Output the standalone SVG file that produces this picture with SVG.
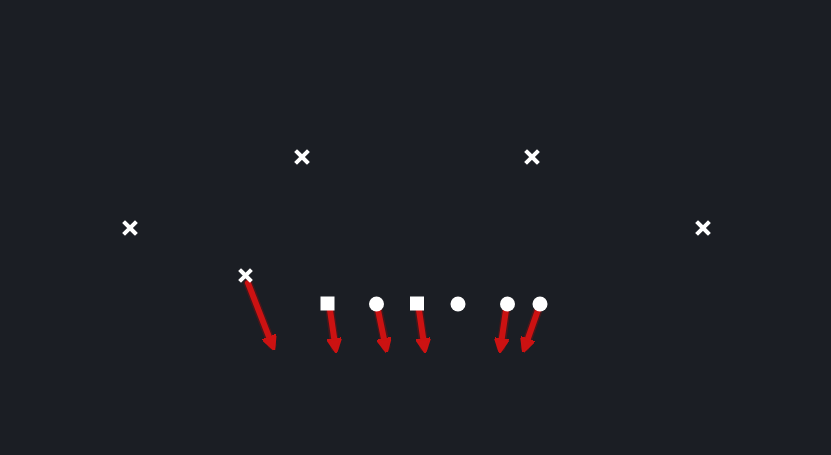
<svg xmlns="http://www.w3.org/2000/svg" width="831" height="455" viewBox="0 0 831 455">
<defs>
<style>
.x{stroke:#ffffff;stroke-width:4;stroke-linecap:square}
.p{fill:#ffffff}
.r{stroke:#cc1212;stroke-width:6;fill:none;stroke-linecap:round}
.g{stroke:#7a0f12;stroke-width:9;fill:none;stroke-linecap:round;opacity:0.45}
</style>
<marker id="ah" viewBox="0 0 10 10" refX="4" refY="5" markerWidth="2.4" markerHeight="2.4" orient="auto" markerUnits="strokeWidth">
<path d="M0,0 L10,5 L0,10 L1,5 z" fill="#cc1212" stroke="#cc1212" stroke-width="1.5" stroke-linejoin="round"/>
</marker>
</defs>
<rect width="831" height="455" fill="#1b1e24"/>
<g id="connectors">
<path class="g" d="M248,283 L272,345"/>
<path class="g" d="M330,310 L335,347"/>
<path class="g" d="M378,310 L386,347"/>
<path class="g" d="M419,310 L424,347"/>
<path class="g" d="M506,310 L501,347"/>
<path class="g" d="M538,310 L525,347"/>
<path class="r" d="M248,283 L271,342" marker-end="url(#ah)"/>
<path class="r" d="M330,310 L335,344" marker-end="url(#ah)"/>
<path class="r" d="M378,310 L385,344" marker-end="url(#ah)"/>
<path class="r" d="M419,310 L424,344" marker-end="url(#ah)"/>
<path class="r" d="M506,310 L501,344" marker-end="url(#ah)"/>
<path class="r" d="M538,310 L526,344" marker-end="url(#ah)"/>
</g>
<g id="d1"><path class="x" d="M297,152 L307,162 M307,152 L297,162"/></g>
<g id="d2"><path class="x" d="M527,152 L537,162 M537,152 L527,162"/></g>
<g id="d3"><path class="x" d="M125,223 L135,233 M135,223 L125,233"/></g>
<g id="d4"><path class="x" d="M698,223 L708,233 M708,223 L698,233"/></g>
<g id="d5"><path class="x" d="M241,271 L250,280 M250,271 L241,280"/></g>
<g id="o1"><rect class="p" x="320.5" y="296.5" width="14" height="14"/></g>
<g id="o2"><circle class="p" cx="376.5" cy="304" r="7.5"/></g>
<g id="o3"><rect class="p" x="410" y="296.5" width="14" height="14"/></g>
<g id="o4"><circle class="p" cx="458" cy="304" r="7.5"/></g>
<g id="o5"><circle class="p" cx="507.5" cy="304" r="7.5"/></g>
<g id="o6"><circle class="p" cx="540" cy="304" r="7.5"/></g>
</svg>
